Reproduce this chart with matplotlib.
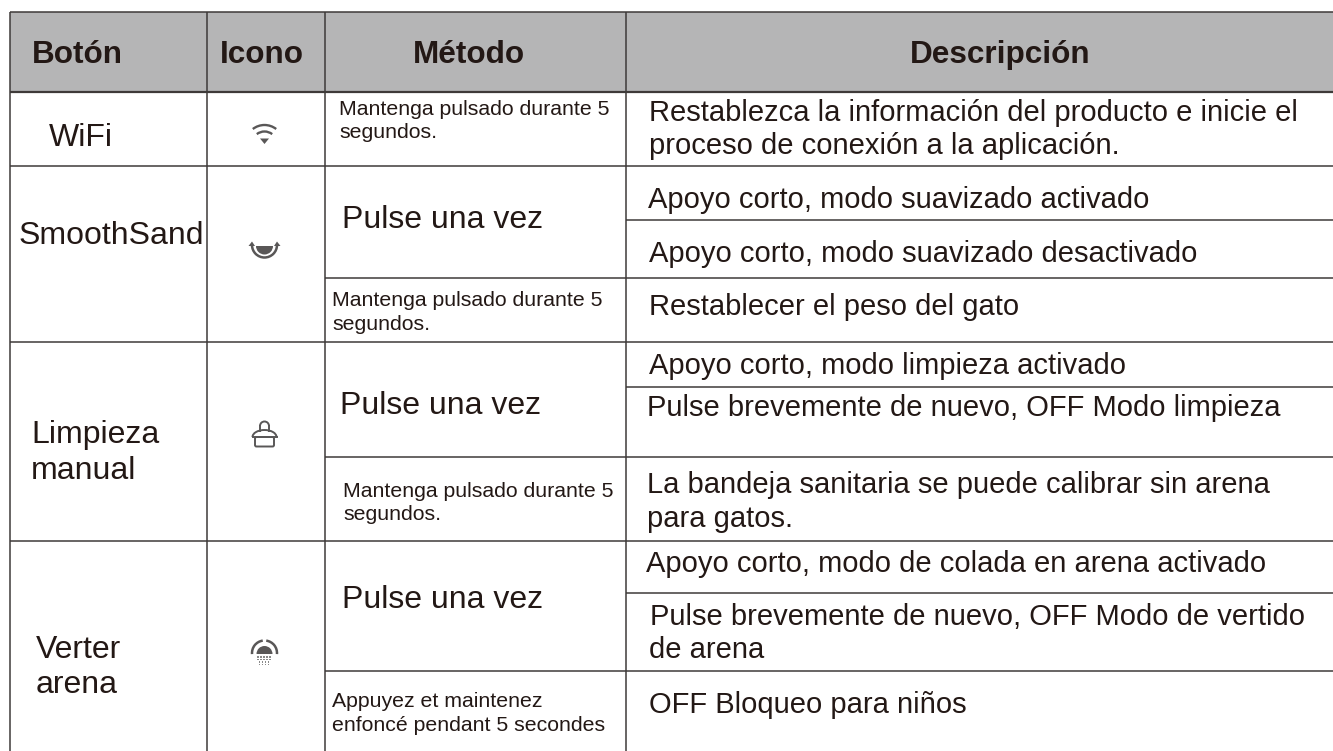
import matplotlib
matplotlib.use('Agg')
import matplotlib.pyplot as plt
from matplotlib.patches import Rectangle, Arc, Wedge, FancyBboxPatch, Polygon

plt.rcParams['font.family'] = ['Liberation Sans', 'DejaVu Sans']

W, H = 1333, 751
ink = '#3e3a39'
txt = '#231815'
icon = '#595757'

headers = ['Botón', 'Icono', 'Método', 'Descripción']
header_x = [77, 262, 469, 1000]

# text, x, baseline y
buttons = [('WiFi', 49, 146), ('SmoothSand', 19, 244),
           ('Limpieza', 31, 443), ('manual', 31, 479),
           ('Verter', 36, 658), ('arena', 36, 693)]

methods_small = [('Mantenga pulsado durante 5', 339, 115), ('segundos.', 339, 138),
                 ('Mantenga pulsado durante 5', 332, 306), ('segundos.', 332, 330),
                 ('Mantenga pulsado durante 5', 343, 497), ('segundos.', 343, 520),
                 ('Appuyez et maintenez', 332, 707), ('enfoncé pendant 5 secondes', 332, 731)]

methods_big = [('Pulse una vez', 342, 228), ('Pulse una vez', 340, 414), ('Pulse una vez', 342, 608)]

descriptions = [('Restablezca la información del producto e inicie el', 649, 121),
                ('proceso de conexión a la aplicación.', 649, 154),
                ('Apoyo corto, modo suavizado activado', 648, 208),
                ('Apoyo corto, modo suavizado desactivado', 649, 262),
                ('Restablecer el peso del gato', 649, 315),
                ('Apoyo corto, modo limpieza activado', 649, 374),
                ('Pulse brevemente de nuevo, OFF Modo limpieza', 647, 416),
                ('La bandeja sanitaria se puede calibrar sin arena', 647, 493),
                ('para gatos.', 647, 527),
                ('Apoyo corto, modo de colada en arena activado', 646, 572),
                ('Pulse brevemente de nuevo, OFF Modo de vertido', 650, 625),
                ('de arena', 649, 658),
                ('OFF Bloqueo para niños', 649, 713)]

# table lines: (x0, x1, y)
h_lines = [(10, W, 12), (10, W, 92), (10, W, 165.5), (10, W, 342), (10, W, 541),
           (324.5, W, 278), (324.5, W, 457), (324.5, W, 670.5),
           (626, W, 220), (626, W, 387), (626, W, 593)]
v_lines = [10, 206.5, 324.5, 626]

fig = plt.figure(figsize=(W / 100, H / 100), dpi=100)
ax = fig.add_axes([0, 0, 1, 1])
ax.set_xlim(0, W)
ax.set_ylim(H, 0)
ax.axis('off')

ax.add_patch(Rectangle((10, 12), W - 10, 80, fc='#b5b5b6', ec='none'))

for x0, x1, y in h_lines:
    ax.plot([x0, x1], [y, y], color=ink, lw=1.6 if y == 92 else 1.1, solid_capstyle='butt')
for x in v_lines:
    ax.plot([x, x], [12, H], color=ink, lw=1.1, solid_capstyle='butt')

for s, x in zip(headers, header_x):
    ax.text(x, 63, s, fontsize=22.7, fontweight='bold', color=txt, ha='center', va='baseline')
for s, x, y in buttons:
    ax.text(x, y, s, fontsize=23, color=txt, va='baseline')
for s, x, y in methods_small:
    ax.text(x, y, s, fontsize=15.3, color=txt, va='baseline')
for s, x, y in methods_big:
    ax.text(x, y, s, fontsize=23, color=txt, va='baseline')
for s, x, y in descriptions:
    ax.text(x, y, s, fontsize=21, color=txt, va='baseline')

# wifi icon
for r in (19, 12.5):
    ax.add_patch(Arc((264.5, 144), 2 * r, 2 * r, theta1=232, theta2=308, color=icon, lw=1.7))
ax.add_patch(Polygon([(260, 138.5), (269, 138.5), (264.5, 144)], fc=icon, ec='none'))

# smoothsand icon
ax.add_patch(Wedge((264.5, 246), 8.5, 0, 180, fc=icon, ec='none'))
ax.add_patch(Arc((264.5, 245), 25, 25, theta1=0, theta2=180, color=icon, lw=1.8))
ax.add_patch(Polygon([(248.5, 246), (255, 246), (252, 241.5)], fc=icon, ec='none'))
ax.add_patch(Polygon([(274, 246), (280.5, 246), (277, 241.5)], fc=icon, ec='none'))

# limpieza icon
ax.add_patch(Arc((264.5, 426), 9, 9, theta1=180, theta2=360, color=icon, lw=1.4))
ax.plot([260, 260], [426, 431], color=icon, lw=1.4)
ax.plot([269, 269], [426, 431], color=icon, lw=1.4)
ax.add_patch(Arc((264.5, 437), 24, 14, theta1=180, theta2=360, color=icon, lw=1.4))
ax.plot([252.5, 276.5], [437, 437], color=icon, lw=1.4)
ax.add_patch(FancyBboxPatch((255, 437), 19, 9.5, boxstyle='round,pad=0,rounding_size=1.5',
                            fc='none', ec=icon, lw=1.4))

# verter arena icon
ax.add_patch(Wedge((264.5, 654), 8, 180, 360, fc=icon, ec='none'))
ax.add_patch(Arc((264.5, 653), 25, 25, theta1=175, theta2=262, color=icon, lw=1.8))
ax.add_patch(Arc((264.5, 653), 25, 25, theta1=278, theta2=365, color=icon, lw=1.8))
for row, y in enumerate([656, 658.5, 661, 663.5]):
    n = 5 - row // 2
    for i in range(n):
        ax.add_patch(Rectangle((264.5 - n * 1.5 + i * 3, y), 1.6, 1.6, fc='#8a8a8a', ec='none'))

fig.savefig('out.png', dpi=100)
